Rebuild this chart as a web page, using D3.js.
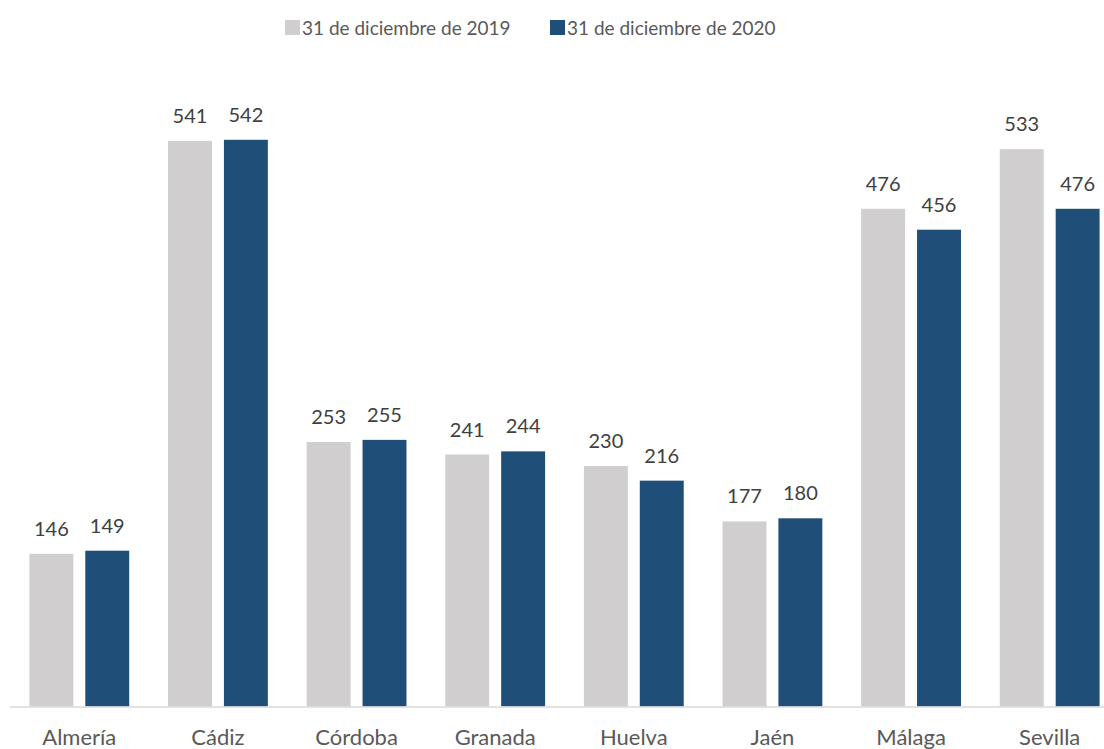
<!DOCTYPE html>
<html>
<head>
<meta charset="utf-8">
<script src="https://cdn.jsdelivr.net/npm/d3@7"></script>
<style>
  body { margin: 0; background: #fff; }
  text { font-family: Lato, "Open Sans", sans-serif; }
</style>
</head>
<body>
<svg id="chart" width="1104" height="749"></svg>
<script>
// datos
var provincias = ["Almería", "Cádiz", "Córdoba", "Granada", "Huelva", "Jaén", "Málaga", "Sevilla"];
var series = ["31 de diciembre de 2019", "31 de diciembre de 2020"];
var valores2019 = [146, 541, 253, 241, 230, 177, 476, 533];
var valores2020 = [149, 542, 255, 244, 216, 180, 456, 476];
var colores = ["#d0cece", "#1f4e79"];

var svg = d3.select("#chart");
var base = 706.5;

// escalas
var x0 = d3.scaleBand()
    .domain(provincias)
    .range([10, 1119])
    .paddingInner(0.28)
    .paddingOuter(0.14);
var x1 = d3.scaleBand()
    .domain(series)
    .range([0, x0.bandwidth()])
    .paddingInner(0.214);
var y = d3.scaleLinear()
    .domain([0, 600])
    .range([base, base - 600 * 1.0456]);

var datos = provincias.map(function(p, i) {
    return [
        {prov: p, serie: series[0], valor: valores2019[i]},
        {prov: p, serie: series[1], valor: valores2020[i]}
    ];
});

// barras
var grupos = svg.append("g").selectAll("g")
    .data(datos)
    .enter().append("g")
    .attr("transform", function(d) { return "translate(" + x0(d[0].prov) + ",0)"; });

grupos.selectAll("rect")
    .data(function(d) { return d; })
    .enter().append("rect")
    .attr("x", function(d) { return x1(d.serie); })
    .attr("y", function(d) { return y(d.valor); })
    .attr("width", x1.bandwidth())
    .attr("height", function(d) { return y(0) - y(d.valor); })
    .attr("fill", function(d, i) { return colores[i]; });

// etiquetas de valor
grupos.selectAll("text")
    .data(function(d) { return d; })
    .enter().append("text")
    .attr("x", function(d) { return x1(d.serie) + x1.bandwidth() / 2; })
    .attr("y", function(d) { return y(d.valor) - 18; })
    .attr("text-anchor", "middle")
    .attr("font-size", 20)
    .attr("fill", "#404040")
    .text(function(d) { return d.valor; });

// eje x
var xAxis = d3.axisBottom(x0).tickSize(0).tickPadding(23);
var gx = svg.append("g")
    .attr("transform", "translate(0," + base + ")")
    .call(xAxis);
gx.select(".domain").remove();
gx.selectAll("text")
    .attr("font-size", 22)
    .attr("font-family", "Lato, sans-serif")
    .attr("fill", "#595959");
svg.append("line")
    .attr("x1", 10).attr("x2", 1104)
    .attr("y1", base + 0.5).attr("y2", base + 0.5)
    .attr("stroke", "#d9d9d9")
    .attr("stroke-width", 1.5);

// leyenda
var leyX = [285, 550];
var ley = svg.append("g").selectAll("g")
    .data(series)
    .enter().append("g")
    .attr("transform", function(d, i) { return "translate(" + leyX[i] + ",0)"; });
ley.append("rect")
    .attr("x", 0).attr("y", 20)
    .attr("width", 15).attr("height", 15)
    .attr("fill", function(d, i) { return colores[i]; });
ley.append("text")
    .attr("x", 17).attr("y", 35)
    .attr("font-size", 19)
    .attr("fill", "#595959")
    .text(function(d) { return d; });
</script>
</body>
</html>
